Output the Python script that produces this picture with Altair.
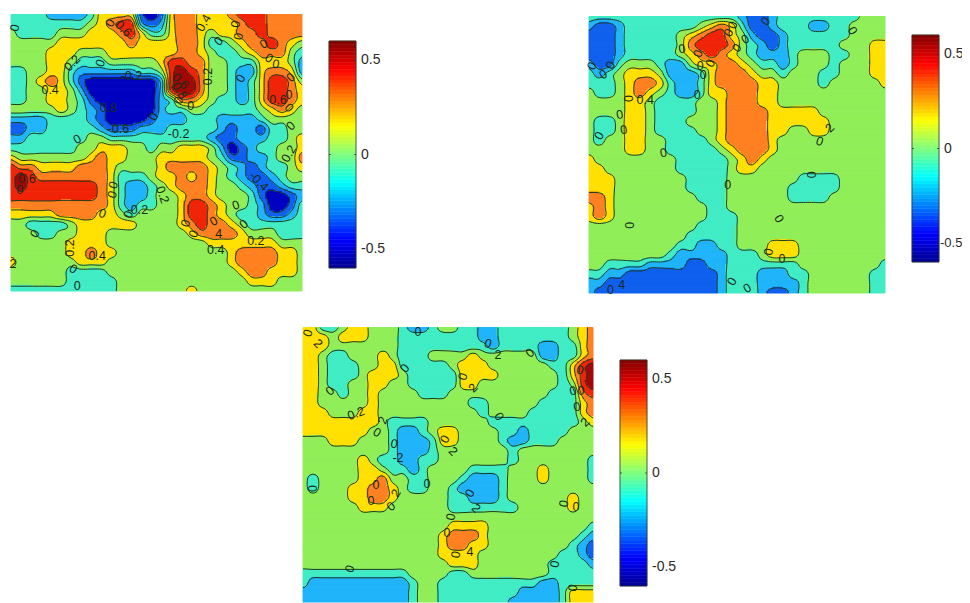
import re
import altair as alt
import numpy as np
import pandas as pd

# Field: one letter per grid node, a letter stands for a contour band
# a=-0.7 b=-0.5 c=-0.3 d=-0.1 e=0.1 f=0.3 g=0.5 h=0.7 i=0.9   (letter + repeat count)
FIELD_1 = [
 "d4 c4 d f4 b a b f g2 f3 g h3 g4",
 "d8 e f g h2 c b c f g2 f4 g h2 g4",
 "e d4 e3 f3 g h f d2 f g2 f e f2 g2 h g4",
 "e5 f7 g f4 g2 f d2 e f g2 h g f e",
 "e4 f3 e3 f7 g2 f e d2 e f g3 e d",
 "e4 f2 e d3 e5 f h2 g2 e2 d3 f3 e c",
 "d2 e2 f2 d c6 d2 e h i h g e2 d c2 f g2 f c",
 "d2 e f g f d b a7 c h i2 g e2 d c d f h2 g e",
 "d2 e2 f2 e c a7 c h i2 g e2 d c d f h2 g f",
 "d2 e2 f2 e d b a6 c d g2 f e d2 c d f h2 g f",
 "e5 f e d c b a5 c d2 e2 d5 e f g f e",
 "c4 d4 c b a4 b c3 d3 c4 d e4",
 "b2 c2 d5 c b3 c3 d5 c b c2 b d2 e2",
 "c2 d6 e2 d10 c b2 c3 d2 e f",
 "d7 e2 f3 e2 d e2 f3 e c a b c d2 e2 f",
 "f e7 f g f2 e3 f5 e d b2 c2 d e2 g",
 "h g2 f4 g3 f e4 f g4 f e d c b c d2 e f",
 "h i h g7 f d3 e f2 g f g f e d c b2 c d e2",
 "h i h7 g f d c2 d e f g3 f e2 d c b2 c d2",
 "h9 g f d c2 d e2 f g2 f e3 d b a2 b c",
 "g10 f d c d2 e2 f h2 g f e2 d c a2 b d",
 "f5 g4 f2 e d e4 f h2 g f e d2 c b2 c d",
 "e2 d4 e f6 e4 f g h g2 f e d6",
 "e3 d2 e2 f3 e8 f g4 f e3 d3",
 "e6 f4 e10 f7 e3",
 "e6 f2 g f2 e11 f g4 f2 e",
 "f e6 f3 e12 f g4 f2 e",
 "e6 d4 e13 f g2 f3 e",
 "e6 d5 e13 f3 e3",
 "d11 e7 f e11",
]
FIELD_2 = [
 "d15 c b2 c d8 e3",
 "c b2 c d7 e f g f d b2 c d3 c2 d2 e4",
 "b3 c d5 e f g h2 f e c b2 c d6 e4",
 "b3 c d5 e g h3 g e d c b c d5 e3 f2",
 "b3 c d5 e f g h g f e d c3 d e3 d2 e2 f2",
 "c b2 d e3 d c2 e f2 g2 f e d2 c d e3 d e3 f2",
 "d c d e f3 e c3 d f g3 f e2 d e3 d2 e3 f2",
 "d3 e f g2 f d c2 d f g4 f2 e4 d e5 f",
 "e d2 e f g f e d c2 d f2 g3 f2 e11",
 "e4 f2 e d4 e2 f g3 f2 e11",
 "e4 f2 e d4 e2 f g4 f5 e7",
 "e d2 e f2 e d3 e3 f g4 f6 e6",
 "e d2 e f2 e d4 e2 f g4 f2 e2 f2 e6",
 "e d e2 f2 e2 d4 e f g4 f e11",
 "e4 f2 e2 d5 e f g3 f e11",
 "f e8 d5 e f g f e12",
 "f2 e7 d5 e f2 e13",
 "f3 e7 d4 e7 d4 e5",
 "f3 e7 d4 e6 d5 e5",
 "g2 f e8 d3 e6 d4 e6",
 "f g f e9 d2 e16",
 "f g f e9 d3 e15",
 "e11 d4 e15",
 "e10 d5 e15",
 "e9 d2 c2 d2 e3 f3 e9",
 "e8 d c5 d3 e f3 e9",
 "e2 d4 c4 b2 c2 d7 e8 d",
 "d2 c2 b9 c d3 c3 d2 e6 d2",
 "c2 b11 c d3 c4 d e6 d2",
 "c b12 c d3 c b2 c d e6 d2",
]
FIELD_3 = [
 "f2 d2 e f2 e3 d c2 d e2 d2 c2 d7 e f g",
 "f3 e f3 e3 d8 c2 d7 e f g",
 "f3 e7 d9 c d4 c2 d2 f g",
 "f2 e d2 e3 f e d3 e4 f e6 c2 d2 f g",
 "f2 e d3 e2 f2 d5 e f3 e6 d2 f h i",
 "f2 e d3 e f3 e d5 f4 e6 d f h i",
 "f2 e d2 e2 f2 e2 d5 f2 e8 d e h i",
 "f2 e2 d e2 f e4 d3 e10 d3 g h",
 "f2 e5 f e9 d2 e5 d4 f g",
 "f3 e3 f2 e10 d e4 d5 f g",
 "f8 e d4 e6 d9 e f",
 "f7 e2 d c2 d e f2 e4 d2 c d4 e3",
 "e3 f3 e3 d c3 d f2 e4 d c2 d3 e4",
 "e9 d c3 d e7 d e8",
 "e6 f e d2 c2 d2 e7 d e7 d",
 "e6 f2 e d2 c d e4 d4 e3 f e4 d",
 "e d e4 f2 g e2 d2 e3 d c3 d e3 f e4 d",
 "e d e3 f2 g2 f e d2 e2 d c4 d e9",
 "e5 f2 g2 f e5 d2 c3 d e6 f e2",
 "e6 f3 e6 d7 e5 f e2",
 "e30",
 "e15 f4 e10 d",
 "e14 f g3 f e9 d c",
 "e14 f g2 f2 e8 d c b",
 "e14 f4 e8 d2 c b",
 "e15 f3 e7 d4 c",
 "d11 e4 d2 e8 d5",
 "d c10 d e2 d10 c2 d4",
 "c11 d e2 d8 c4 d f3",
 "c11 d e2 d7 c5 d f3",
]
# contour labels: column, row, text, rotation
LABELS_1 = [
 (.4,1.4,"0",-80),(6.1,5.1,"0.2",-45),(3.9,7.9,"0.4",0),(8.9,5.1,"0",-70),(12,6.5,"-0.2",0),
 (6.6,13.1,"0",-30),(16.7,12.5,"-0.2",0),(19.2,.9,"0.4",-60),(19.6,6.5,"0.2",-90),(20.7,2.8,"0",-45),
 (22.9,6.7,"0",-60),(25.2,3.1,"0",-30),(25.7,4.6,"0",30),(26.4,5.2,"0",10),(27.9,6.6,"0",-45),
 (27.9,11.7,"0",-45),(27.7,14.6,"0.2",-60),(22.4,20,"0",-20),(23.2,22,"0",-40),(24.4,23.8,"0.2",0),
 (20.4,24.7,"0.4",0),(24.7,17.5,"-0.4",45),(15.1,18.9,"0.2",70),(10.2,17.9,"0",-70),(10.1,18.9,"0",-70),
 (9.1,20.9,"0",20),(11.7,21,"0",-70),(12.6,20.5,"-0.2",0),(2.4,23,"0",-60),(5.9,24.5,"0.2",-90),
 (8.6,25.3,"0.4",0),(6.2,26.7,"0",30),(6.6,28.5,"0",0),(.2,26.2,"2",0),(9.9,.9,"0",-60),(11.2,1.5,"0.6",45),
 (22.4,1,"0",-80),(22.7,2.3,"0",-80),(1.6,17.3,"0.6",0),(.9,18.4,"0",0),(16.9,7,"0.6",45),(16.8,8,"0.8",60),
 (17.9,9.6,"0",0),(16.7,9,"0",-70),(26.6,9,"0.6",0),(27.7,9.8,"0",45),(27.7,8.4,"0",0),(9.7,9.8,"0.8",0),
 (10.7,12,"-0.6",0),(14.2,10.7,"0",-60),(17.4,21.9,"0",-70),(18.2,23,"0",-70),(20.2,21.7,"0",-30),(20.7,23,"4",0),
]
LABELS_2 = [
 (9.1,3.4,"0",-10),(10.7,3.9,"0",-70),(10.9,5.2,"0",0),(11.2,6.1,"0",0),(11.9,4.9,"0",-60),(10.6,8.2,"0",0),
 (13.7,1.7,"0",-60),(14.1,.9,"0",-70),(15.3,2.4,"0",-30),(14.5,3.3,"0",-50),(17.3,.5,"0",-50),(.3,5.2,"0",-60),
 (2.1,5.1,"0",-60),(1.4,6.1,"0",-30),(3.9,8.6,"0",-90),(3,10.3,"0",-10),(3.4,11.9,"0",-10),(1,12.5,"0",-60),
 (7.3,14.3,"0",-10),(13.6,17.7,"0",0),(21.8,16.6,"0",-90),(22.6,13.1,"0",20),(23.6,11.7,"2",-45),(18.6,21.2,"0",60),
 (4,21.9,"0",-90),(25.8,1.5,"0",60),(17.6,24.7,"0",-80),(18.9,25.4,"0",0),(14,27.8,"0",-60),(15.5,28.5,"0",-30),
 (3.2,28.2,"4",0),(2.1,28.7,"0",0),(5.5,8.8,"0.4",0),
]
LABELS_3 = [
 (.5,.6,"0",-70),(1.5,1.7,"2",45),(2.7,6.7,"0",-40),(5.3,9.1,"0.2",-20),(8,9.8,"2",-70),(7.4,11.1,"0",30),
 (10.2,4.3,"0",-50),(11.5,.5,"0",0),(18.5,1.7,"0",20),(19.5,2.9,"2",0),(22.7,2.7,"0",-40),(16,5.2,"0",-70),
 (17,6.4,"2",-45),(19.6,9.4,"0",60),(27,6.7,"0",-10),(27.8,6.7,"0",0),(27.4,8.4,"0",-10),(27.7,4.5,"0",10),
 (28.2,10,"2",-45),(14.2,11.8,"0",-60),(15,13.1,"2",45),(9.1,12.3,"0",10),(9.5,13.8,"-2",0),(12.4,16.5,"0",0),
 (1,17,"0",-90),(7.3,16.6,"0",0),(6.8,18.3,"0",0),(8.8,18.9,"0",-40),(9.3,17.5,"2",-60),(16.7,17.5,"0",-60),
 (17.3,19.1,"2",45),(26.1,18.6,"0",-80),(27.3,19,"0",0),(14.8,20,"0",-80),(14.4,21.7,"0",0),(15.3,24,"0",-80),
 (16.7,23.7,"4",0),(4.7,25.5,"0",-70),(25.2,25,"0",-80),(27,27.5,"0",-80),
]
LETTER_VALUE = dict(zip("abcdefghi", [-7, -5, -3, -1, 1, 3, 5, 7, 9]))
LEVELS = [-6, -4, -2, 0, 2, 4, 6, 8]
BAND_COLORS = ["#0000c0", "#1060ee", "#20b4fa", "#40ecc4", "#90ee58", "#ffe000", "#ff8020", "#f02408", "#a00808"]
JET = [(0, "#00008f"), (.125, "#0000ff"), (.375, "#00ffff"), (.625, "#ffff00"), (.875, "#ff0000"), (1, "#800000")]
BAR_TICKS = [0.5, 0, -0.5]
BAR_LABELS = ["0.5", "0", "-0.5"]

PANELS = [
    dict(field=FIELD_1, labels=LABELS_1, x=(3, 294), y=(6.5, 283), bar_x=(321, 348), bar_y=(260, 33),
         gaps=[5, 5, 5], sizes=[14, 14, 14]),
    dict(field=FIELD_2, labels=LABELS_2, x=(581, 877), y=(8.5, 285), bar_x=(904, 931), bar_y=(254, 27),
         gaps=[5, 5, 1], sizes=[14, 14, 13]),
    dict(field=FIELD_3, labels=LABELS_3, x=(295, 585), y=(319.5, 594), bar_x=(612, 639), bar_y=(578, 352),
         gaps=[5, 5, 5], sizes=[14, 14, 14]),
]
SUB = 5


def grid(rows):
    out = []
    for r in rows:
        cells = []
        for letter, n in re.findall(r"([a-i])(\d*)", r):
            cells += [LETTER_VALUE[letter]] * (int(n) if n else 1)
        out.append((cells + cells[-1:] * 30)[:30])
    return np.array(out, dtype=float)


def refine(g):
    """Contouring surface through the typed nodes (Catmull-Rom), sampled SUB times per cell."""
    n = 29 * SUB + 1
    pos = np.arange(n) / SUB
    i = np.minimum(pos.astype(int), 28)
    t = pos - i
    idx = np.stack([np.clip(i + k, 0, 29) for k in (-1, 0, 1, 2)])
    w = np.stack([(-t**3 + 2*t**2 - t) / 2, (3*t**3 - 5*t**2 + 2) / 2,
                  (-3*t**3 + 4*t**2 + t) / 2, (t**3 - t**2) / 2])
    out = np.zeros((n, n))
    for a in range(4):
        for b in range(4):
            out += np.outer(w[a], w[b]) * g[np.ix_(idx[a], idx[b])]
    return out


def fills(f):
    centre = (f[:-1, :-1] + f[1:, :-1] + f[:-1, 1:] + f[1:, 1:]) / 4
    bands = np.searchsorted(LEVELS, centre, side="right")
    recs = []
    for b, row in enumerate(bands):
        start = 0
        for a in range(1, len(row) + 1):
            if a == len(row) or row[a] != row[start]:
                recs.append(dict(x=start / SUB, x2=a / SUB, y=b / SUB, y2=(b + 1) / SUB,
                                 col=BAND_COLORS[int(row[start])]))
                start = a
    return pd.DataFrame(recs)


def contours(f):
    segs = []
    h, w = f.shape
    for lev in LEVELS:
        above = f >= lev
        for j in range(h - 1):
            for i in range(w - 1):
                if above[j, i] == above[j, i + 1] == above[j + 1, i] == above[j + 1, i + 1]:
                    continue
                corners = [(i, j), (i + 1, j), (i + 1, j + 1), (i, j + 1)]
                pts = []
                for k in range(4):
                    p, q = corners[k], corners[(k + 1) % 4]
                    a, b = f[p[1], p[0]], f[q[1], q[0]]
                    if (a >= lev) != (b >= lev):
                        t = (lev - a) / (b - a)
                        pts.append(((p[0] + t * (q[0] - p[0])) / SUB, (p[1] + t * (q[1] - p[1])) / SUB))
                for s in range(0, len(pts) - 1, 2):
                    segs.append(dict(x=pts[s][0], y=pts[s][1], x2=pts[s + 1][0], y2=pts[s + 1][1]))
    return pd.DataFrame(segs).round(3)


def jet(t):
    for (t0, c0), (t1, c1) in zip(JET, JET[1:]):
        if t <= t1:
            f = (t - t0) / (t1 - t0)
            rgb = [round(int(c0[n:n + 2], 16) * (1 - f) + int(c1[n:n + 2], 16) * f) for n in (1, 3, 5)]
            return "#%02x%02x%02x" % tuple(rgb)
    return JET[-1][1]


def sx(rng):
    return alt.Scale(domain=[0, 29], range=list(rng), nice=False, zero=False)


alt.data_transformers.disable_max_rows()
layers = []
for p in PANELS:
    f = refine(grid(p["field"]))
    X = alt.X("x:Q", scale=sx(p["x"]), axis=None)
    Y = alt.Y("y:Q", scale=sx(p["y"]), axis=None)
    layers.append(alt.Chart(fills(f)).mark_rect(strokeWidth=1).encode(
        X, x2="x2:Q", y=Y, y2="y2:Q",
        color=alt.Color("col:N", scale=None), stroke=alt.Stroke("col:N", scale=None)))
    layers.append(alt.Chart(contours(f)).mark_rule(color="#1c3c20", strokeWidth=1).encode(
        X, x2="x2:Q", y=Y, y2="y2:Q"))
    lab = pd.DataFrame(p["labels"], columns=["x", "y", "t", "a"])
    lab["a"] = lab["a"] % 360
    layers.append(alt.Chart(lab).mark_text(font="Liberation Sans", fontSize=12.5, color="#1a2a1a",
                                           align="center", baseline="middle").encode(
        X, Y, text="t:N", angle=alt.Angle("a:Q", scale=None)))

    bx = alt.Scale(domain=[0, 1], range=list(p["bar_x"]), nice=False, zero=False)
    by = alt.Scale(domain=[-0.6, 0.6], range=list(p["bar_y"]), nice=False, zero=False)
    n = 64
    bar = pd.DataFrame([dict(a=0, b=1, lo=-.6 + 1.2 * k / n, hi=-.6 + 1.2 * (k + 1) / n, col=jet((k + .5) / n))
                        for k in range(n)])
    layers.append(alt.Chart(bar).mark_rect(strokeWidth=0.5).encode(
        x=alt.X("a:Q", scale=bx, axis=None), x2="b:Q",
        y=alt.Y("lo:Q", scale=by, axis=None), y2="hi:Q",
        color=alt.Color("col:N", scale=None), stroke=alt.Stroke("col:N", scale=None)))
    frame = pd.DataFrame([dict(a=0, b=1, lo=-.6, hi=.6)])
    layers.append(alt.Chart(frame).mark_rect(fill=None, stroke="#2a3a2a", strokeWidth=0.8).encode(
        x=alt.X("a:Q", scale=bx, axis=None), x2="b:Q",
        y=alt.Y("lo:Q", scale=by, axis=None), y2="hi:Q"))
    tk = pd.DataFrame(dict(v=BAR_TICKS, t=BAR_LABELS, a=[1 + g / 27 for g in p["gaps"]], s=p["sizes"]))
    layers.append(alt.Chart(tk).mark_text(font="Liberation Sans", color="#2a2a2a",
                                          align="left", baseline="middle").encode(
        x=alt.X("a:Q", scale=bx, axis=None), y=alt.Y("v:Q", scale=by, axis=None), text="t:N",
        size=alt.Size("s:Q", scale=None)))
    ticks = pd.DataFrame(dict(v=BAR_TICKS * 2, a=[0] * 3 + [.93] * 3, b=[.07] * 3 + [1] * 3))
    layers.append(alt.Chart(ticks).mark_rule(color="#2a3a2a", strokeWidth=0.8).encode(
        x=alt.X("a:Q", scale=bx, axis=None), x2="b:Q", y=alt.Y("v:Q", scale=by, axis=None)))

chart = alt.layer(*layers).resolve_scale(x="independent", y="independent").properties(
    width=954, height=595, padding=0, autosize=alt.AutoSizeParams(type="none")
).configure_view(stroke=None)

chart.save("out.html", embed_options={"renderer": "svg", "actions": False})
